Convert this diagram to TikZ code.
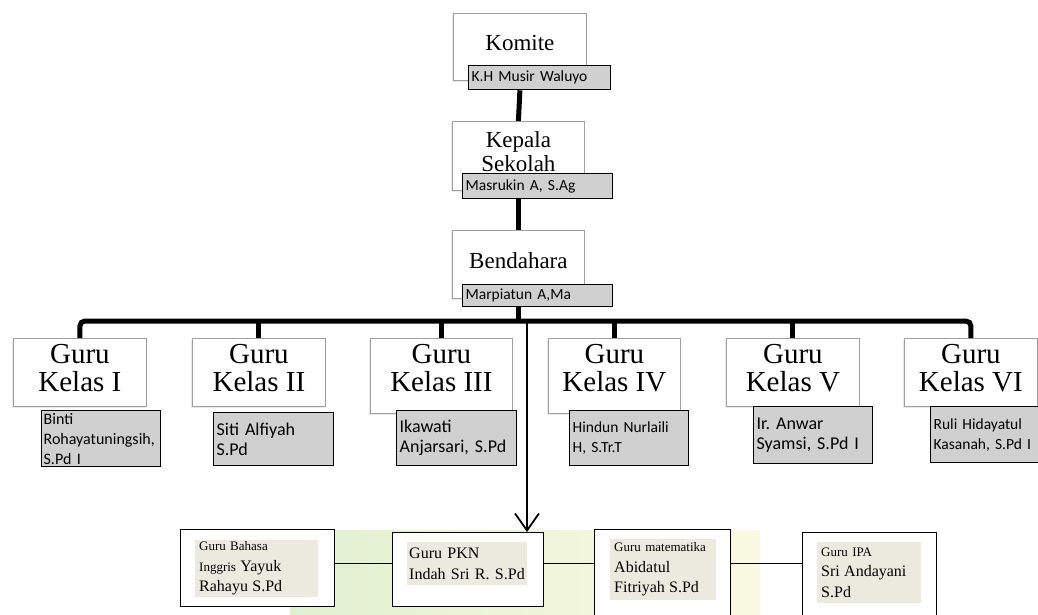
\documentclass[tikz,border=0pt]{standalone}
\usepackage{fontspec}
\setmainfont{Liberation Serif}
\newfontfamily\calibri{Carlito}
\usetikzlibrary{arrows.meta, shadows}
\frenchspacing

\definecolor{tagfill}{RGB}{208,208,208}
\definecolor{notefill}{RGB}{236,234,223}
\definecolor{postline}{RGB}{160,160,160}
\definecolor{wmgreen}{RGB}{226,240,210}
\definecolor{wmyellow}{RGB}{251,249,226}

\begin{document}
\begin{tikzpicture}[
            x = 1pt, y = -1pt, % pixel grid, y grows downwards
            > = {Straight Barb[length=17pt, width=24pt]}, % open arrow head
            trunk/.style = {line width=5pt}, % thick tree lines
            link/.style = {line width=1.5pt} % thin lines of the bottom row
        ]

        \tikzstyle{post}=[
            draw = postline,
            fill = white,
            line width = 0.8pt,
            anchor = north west,
            align = center,
            inner sep = 0pt,
            drop shadow = {shadow xshift=-1.5pt, shadow yshift=-2pt, opacity=0.18}
        ]
        \tikzstyle{tag}=[
            draw = black,
            fill = tagfill,
            line width = 1.3pt,
            anchor = north west,
            align = left,
            inner xsep = 3pt,
            inner ysep = 0pt,
            font = \calibri\fontsize{#1}{20}\selectfont
        ]
        \tikzstyle{unit}=[
            draw = black,
            fill = white,
            line width = 1.3pt,
            anchor = north west,
            inner sep = 0pt
        ]
        \tikzstyle{note}=[
            fill = notefill,
            anchor = north west,
            align = left,
            inner xsep = 4pt,
            inner ysep = 0pt,
            font = \fontsize{13}{20.5}\selectfont
        ]

        \path[use as bounding box, clip] (0,0) rectangle (1038,614);

        % watermark behind the bottom row
        \shade[left color=wmgreen, right color=wmyellow] (290,530) rectangle (760,614);

	\node[post, minimum width=133pt, minimum height=67pt, text depth=8pt,
	      font=\fontsize{23}{24}\selectfont] (komite) at (453,13) {Komite};
	\node[tag=15.5, text width=136pt, minimum height=24pt] (musir) at (468,65) {K.H Musir Waluyo};

	\node[post, minimum width=132pt, minimum height=69pt, text depth=8.7pt,
	      font=\fontsize{23}{24}\selectfont] (kepala) at (452,121) {Kepala\\Sekolah};
	\node[tag=15.5, text width=144pt, minimum height=25pt] (masrukin) at (462,173) {Masrukin A, S.Ag};

	\node[post, minimum width=132pt, minimum height=68pt, text depth=8pt,
	      font=\fontsize{23}{24}\selectfont] (bendahara) at (452,230) {Bendahara};
	\node[tag=15.5, text width=144pt, minimum height=22pt] (marpiatun) at (462,284) {Marpiatun A,Ma};

	\node[post, minimum width=133pt, minimum height=68pt, text depth=9.6pt, font=\fontsize{29}{28}\selectfont] (guru1) at (13,338) {Guru\\Kelas I};
	\node[post, minimum width=133pt, minimum height=68pt, text depth=9.6pt, font=\fontsize{29}{28}\selectfont] (guru2) at (192,338) {Guru\\Kelas II};
	\node[post, minimum width=142pt, minimum height=75pt, text depth=16.6pt, font=\fontsize{29}{28}\selectfont] (guru3) at (370,338) {Guru\\Kelas III};
	\node[post, minimum width=132pt, minimum height=75pt, text depth=16.6pt, font=\fontsize{29}{28}\selectfont] (guru4) at (548,338) {Guru\\Kelas IV};
	\node[post, minimum width=133pt, minimum height=68pt, text depth=9.6pt, font=\fontsize{29}{28}\selectfont] (guru5) at (726,338) {Guru\\Kelas V};
	\node[post, minimum width=133pt, minimum height=68pt, text depth=9.6pt, font=\fontsize{29}{28}\selectfont] (guru6) at (904,338) {Guru\\Kelas VI};

	\node[tag=16, text width=115pt, minimum height=56pt, inner xsep=2pt] (binti) at (41,410) {Binti\\Rohayatuningsih,\\S.Pd I};
	\node[tag=18, text width=114pt, minimum height=53pt] (siti) at (213,412) {Siti Alfiyah\\S.Pd};
	\node[tag=18, text width=114pt, minimum height=55pt] (ikawati) at (396,410) {Ikawati\\Anjarsari, S.Pd};
	\node[tag=15.5, text width=113pt, minimum height=55pt] (hindun) at (569,410) {Hindun Nurlaili\\H, S.Tr.T};
	\node[tag=18, text width=113pt, minimum height=57pt] (anwar) at (753,406) {Ir. Anwar\\Syamsi, S.Pd I};
	\node[tag=15.5, text width=108pt, minimum height=56pt] (ruli) at (930,406) {Ruli Hidayatul\\Kasanah, S.Pd I};

	\node[unit, minimum width=154pt, minimum height=77pt] (inggris) at (180,529) {};
	\node[unit, minimum width=151pt, minimum height=74pt] (pkn) at (392,532) {};
	\node[unit, minimum width=136pt, minimum height=100pt] (mtk) at (594,529) {};
	\node[unit, minimum width=134pt, minimum height=97pt] (ipa) at (802,532) {};

	\node[note, text width=115pt, minimum height=57pt] (inggris-t) at (195,540)
	    {Guru Bahasa\\Inggris {\fontsize{16}{20.5}\selectfont Yayuk}\\{\fontsize{16}{20.5}\selectfont Rahayu S.Pd}};
	\node[note, inner xsep=2pt, text width=116pt, minimum height=43pt, font=\fontsize{16}{21.5}\selectfont] (pkn-t) at (407,542)
	    {Guru PKN\\Indah Sri R. S.Pd};
	\node[note, text width=98pt, minimum height=61pt] (mtk-t) at (610,539)
	    {Guru matematika\\{\fontsize{16}{20.5}\selectfont Abidatul}\\{\fontsize{16}{20.5}\selectfont Fitriyah S.Pd}};
	\node[note, text width=96pt, minimum height=61pt] (ipa-t) at (817,542)
	    {Guru IPA\\{\fontsize{16}{20.5}\selectfont Sri Andayani}\\{\fontsize{16}{20.5}\selectfont S.Pd}};

        \coordinate (bus) at (518,321);
        \coordinate (drop) at (527,321);

        \draw[trunk] (komite.south |- musir.south) -- (kepala.north);
        \draw[trunk] (kepala.south |- masrukin.south) -- (bendahara.north);
        \draw[trunk] (bendahara.south |- marpiatun.south) -- (bendahara.south |- bus);
        \draw[trunk, rounded corners=5pt] (guru1.north) |- (bus) -| (guru6.north);
        \foreach \g in {guru2, guru3, guru4, guru5}
            \draw[trunk] (\g.north) -- (\g.north |- bus);

        \draw[->, line width=1.8pt] (drop) -- (drop |- pkn.north);

        \draw[link] (inggris.east |- pkn-t) -- (pkn.west |- pkn-t);
        \draw[link] (pkn.east |- pkn-t) -- (mtk.west |- pkn-t);
        \draw[link] (mtk.east |- pkn-t) -- (ipa.west |- pkn-t);

    \end{tikzpicture}
\end{document}
